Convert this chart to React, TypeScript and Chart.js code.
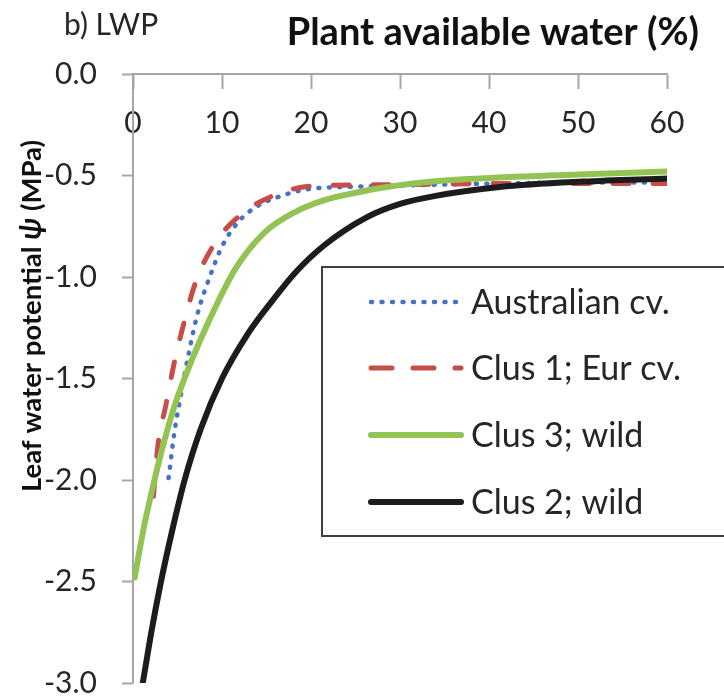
import React, { useEffect, useRef } from "react";
import { Chart, registerables } from "chart.js";

Chart.register(...registerables);

// Panel text
const PANEL_LABEL = "b) LWP";
const X_TITLE = "Plant available water (%)";
const Y_TITLE_PARTS = ["Leaf water potential ", "\u03C8", " (MPa)"];

// Axis ranges
const X_MIN = 0;
const X_MAX = 60;
const X_STEP = 10;
const Y_MIN = -3;
const Y_MAX = 0;
const Y_STEP = 0.5;

// Series labels (legend order)
const SERIES_LABELS = ["Australian cv.", "Clus 1; Eur cv.", "Clus 3; wild", "Clus 2; wild"];

// Australian cv.
const australianX = [4.0, 4.7, 5.3, 6.2, 7.2, 8.7, 10, 11.8, 14, 16.7, 19.3, 25, 30, 40, 50, 60];
const australianY = [-1.99, -1.75, -1.6, -1.39, -1.19, -0.99, -0.85, -0.73, -0.65, -0.6, -0.57, -0.555, -0.55, -0.54, -0.535, -0.535];

// Clus 1; Eur cv.
const clus1X = [2.3, 2.8, 3.7, 4.6, 5.7, 7.0, 9.1, 12.2, 16.3, 20.6, 30, 40, 50, 60];
const clus1Y = [-2.08, -1.83, -1.63, -1.43, -1.23, -1.03, -0.84, -0.69, -0.59, -0.55, -0.545, -0.54, -0.54, -0.54];

// Clus 3; wild
const clus3X = [0.2, 1.1, 2.2, 3.2, 4.7, 6.6, 8.6, 11.5, 14.8, 18.2, 21.6, 25, 28, 35, 41, 50, 60];
const clus3Y = [-2.48, -2.26, -2.04, -1.86, -1.63, -1.41, -1.21, -0.96, -0.78, -0.68, -0.62, -0.585, -0.56, -0.525, -0.51, -0.495, -0.48];

// Clus 2; wild
const clus2X = [1.1, 2.1, 3.1, 4.4, 5.8, 7.6, 10.0, 12.9, 15.6, 18.2, 21.6, 26.3, 30, 33.7, 41.2, 50.6, 60];
const clus2Y = [-3.0, -2.74, -2.51, -2.25, -2.0, -1.75, -1.5, -1.28, -1.12, -0.98, -0.84, -0.705, -0.64, -0.603, -0.557, -0.53, -0.515];

const FONT = "Lato, 'Open Sans', sans-serif";
const AXIS_GREY = "#a6a6a6";
const TEXT_DARK = "#262626";

const BLUE = "#4472c4";
const RED = "#c84d48";
const GREEN = "#92c353";
const BLACK = "#1c1c1c";

const toPoints = (xs: number[], ys: number[]) => xs.map((x, i) => ({ x, y: ys[i] }));

// Legend sample styles (width, dash, cap)
const LEGEND_STYLES = [
  { color: BLUE, width: 4.5, dash: [1, 9.5], cap: "round" as CanvasLineCap },
  { color: RED, width: 5, dash: [21, 21], cap: "round" as CanvasLineCap },
  { color: GREEN, width: 6, dash: [] as number[], cap: "round" as CanvasLineCap },
  { color: BLACK, width: 6, dash: [] as number[], cap: "round" as CanvasLineCap },
];

const panelText = {
  id: "panelText",
  afterDraw(chart: any) {
    const ctx: CanvasRenderingContext2D = chart.ctx;
    ctx.save();
    ctx.fillStyle = TEXT_DARK;
    ctx.textBaseline = "alphabetic";

    ctx.font = `30px ${FONT}`;
    ctx.textAlign = "left";
    ctx.fillText(PANEL_LABEL, 64, 35);

    ctx.fillStyle = "#111";
    ctx.font = `bold 38px ${FONT}`;
    ctx.textAlign = "right";
    ctx.fillText(X_TITLE, 699, 45);

    // rotated y-axis title, with an italic psi
    const fonts = [`bold 27.5px ${FONT}`, `italic bold 30px ${FONT}`, `bold 27.5px ${FONT}`];
    let total = 0;
    const widths = Y_TITLE_PARTS.map((t, i) => {
      ctx.font = fonts[i];
      const w = ctx.measureText(t).width;
      total += w;
      return w;
    });
    ctx.translate(41, 316);
    ctx.rotate(-Math.PI / 2);
    ctx.textAlign = "left";
    let cx = -total / 2;
    Y_TITLE_PARTS.forEach((t, i) => {
      ctx.font = fonts[i];
      ctx.fillText(t, cx, 0);
      cx += widths[i];
    });
    ctx.restore();

    // legend box
    ctx.save();
    ctx.fillStyle = "#ffffff";
    ctx.strokeStyle = "#404040";
    ctx.lineWidth = 2;
    ctx.fillRect(322, 267, 420, 269);
    ctx.strokeRect(322, 267, 420, 269);
    const rows = [302, 368, 435, 502];
    SERIES_LABELS.forEach((label, i) => {
      const s = LEGEND_STYLES[i];
      const y = rows[i];
      ctx.beginPath();
      ctx.strokeStyle = s.color;
      ctx.lineWidth = s.width;
      ctx.lineCap = s.cap;
      ctx.setLineDash(s.dash);
      ctx.moveTo(371, y);
      ctx.lineTo(461, y);
      ctx.stroke();
      ctx.setLineDash([]);
      ctx.fillStyle = TEXT_DARK;
      ctx.font = `34px ${FONT}`;
      ctx.textAlign = "left";
      ctx.textBaseline = "middle";
      ctx.fillText(label, 471, y + 1);
    });
    ctx.restore();
  },
};

export default function App() {
  const canvasRef = useRef<HTMLCanvasElement | null>(null);

  useEffect(() => {
    if (!canvasRef.current) return;
    const chart = new Chart(canvasRef.current, {
      type: "line",
      data: {
        datasets: [
          {
            label: SERIES_LABELS[0],
            data: toPoints(australianX, australianY),
            borderColor: BLUE,
            borderWidth: 4.5,
            borderDash: [1, 9.5],
            borderCapStyle: "round",
            order: 3,
          },
          {
            label: SERIES_LABELS[1],
            data: toPoints(clus1X, clus1Y),
            borderColor: RED,
            borderWidth: 5,
            borderDash: [16, 24],
            borderCapStyle: "round",
            order: 2,
          },
          {
            label: SERIES_LABELS[2],
            data: toPoints(clus3X, clus3Y),
            borderColor: GREEN,
            borderWidth: 6,
            borderCapStyle: "round",
            order: 1,
          },
          {
            label: SERIES_LABELS[3],
            data: toPoints(clus2X, clus2Y),
            borderColor: BLACK,
            borderWidth: 6,
            borderCapStyle: "round",
            order: 0,
          },
        ] as any,
      },
      options: {
        animation: false,
        responsive: false,
        maintainAspectRatio: false,
        parsing: false as any,
        layout: { padding: { left: 0, top: 74, right: 57, bottom: 16 } },
        elements: {
          point: { radius: 0, hoverRadius: 0 },
          line: { cubicInterpolationMode: "monotone", fill: false },
        },
        plugins: {
          legend: { display: false },
          tooltip: { enabled: false },
          title: { display: false },
        },
        scales: {
          x: {
            type: "linear",
            position: { y: 0 } as any,
            min: X_MIN,
            max: X_MAX,
            ticks: {
              stepSize: X_STEP,
              color: TEXT_DARK,
              font: { family: FONT, size: 30 },
              padding: 17,
              maxRotation: 0,
            },
            grid: { drawOnChartArea: false, tickLength: 14, tickColor: AXIS_GREY, tickWidth: 2 },
            border: { color: AXIS_GREY, width: 2 },
            afterFit: (s: any) => {
              s.paddingLeft = 0;
              s.paddingRight = 0;
            },
          },
          y: {
            type: "linear",
            position: "left",
            min: Y_MIN,
            max: Y_MAX,
            ticks: {
              stepSize: Y_STEP,
              color: TEXT_DARK,
              font: { family: FONT, size: 30 },
              padding: 25,
              callback: (v: any) => Number(v).toFixed(1),
            },
            grid: { drawOnChartArea: false, tickLength: 11, tickColor: AXIS_GREY, tickWidth: 2 },
            border: { color: AXIS_GREY, width: 2 },
            afterFit: (s: any) => {
              s.width = 133;
              s.paddingTop = 0;
              s.paddingBottom = 0;
            },
          },
        },
      },
      plugins: [panelText],
    });
    return () => chart.destroy();
  }, []);

  return (
    <div style={{ position: "absolute", left: 0, top: 0, width: 724, height: 699, background: "#fff" }}>
      <canvas ref={canvasRef} width={724} height={699} />
    </div>
  );
}
